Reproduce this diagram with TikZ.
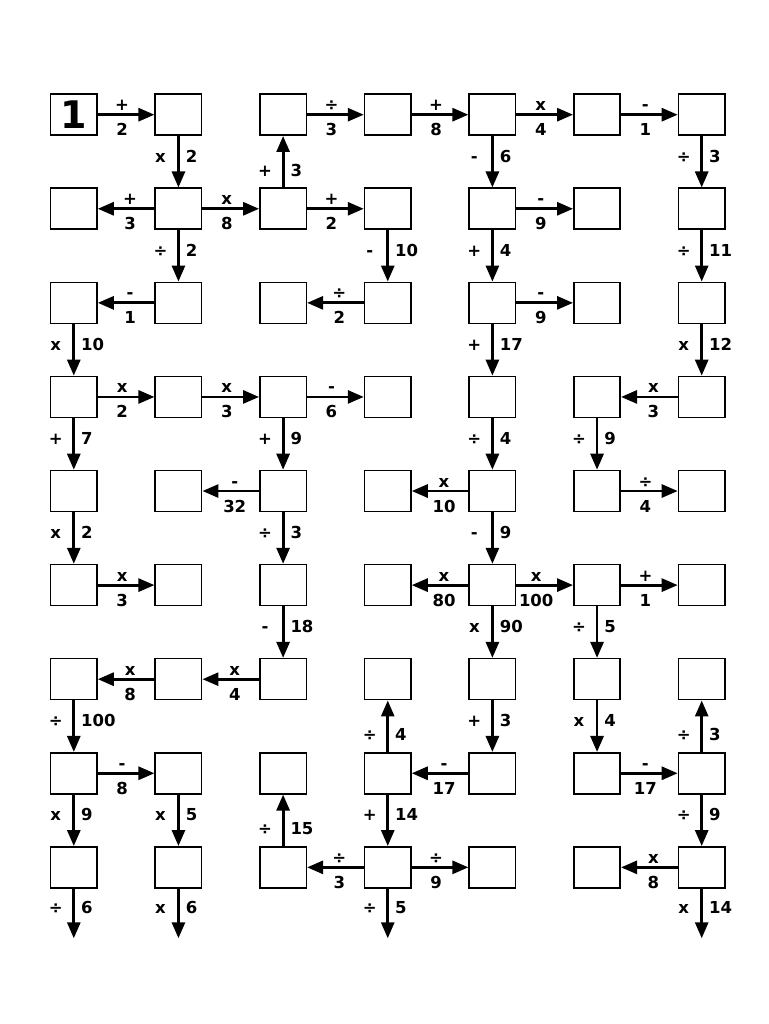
\documentclass[tikz,border=0pt]{standalone}
\usepackage{fontspec}
\setmainfont{DejaVu Sans}
\usetikzlibrary{arrows.meta}
\newcommand\myH[5][.43]{\draw[arr] (#2) -- node[opH,pos=#1]{#4} node[numH,pos=#1]{#5} (#3);}
\newcommand\myV[4]{\draw[arr] (#1) -- node[opV,pos=.51]{#3} node[numV,pos=.51]{#4} (#2);}
\newcommand\myU[4]{\draw[arr] (#1) -- node[opV,pos=.22]{#3} node[numV,pos=.22]{#4} (#2);}
\begin{document}
\begin{tikzpicture}[x=1pt,y=-1pt,
  box/.style={draw, line width=1.6pt, minimum width=46.4pt, minimum height=41pt, inner sep=0pt},
  arr/.style={line width=2.8pt, -{Triangle[length=16pt,width=13pt]}},
  lbl/.style={font=\fontsize{16.5}{18}\selectfont\bfseries, inner sep=0pt},
  opH/.style={lbl, anchor=base, yshift=4pt},
  numH/.style={lbl, anchor=base, yshift=-21pt},
  opV/.style={lbl, anchor=base, xshift=-18pt},
  numV/.style={lbl, anchor=base west, xshift=6pt},
]
\useasboundingbox (0,0) rectangle (768,1024);
\fill[white] (0,0) rectangle (768,1024);
\foreach \c in {1,...,7}{
  \foreach \r in {1,...,9}{
    \node[box] (b\c\r) at ({73.8+104.65*(\c-1)},{114.7+94.08*(\r-1)}) {};
  }
}
\node[font=\fontsize{38}{40}\selectfont\bfseries, inner sep=0pt] (one) at (b11) {1};
\foreach \c in {1,2,4,7}{
  \coordinate (e\c) at ({73.8+104.65*(\c-1)},938.3);
}
% row 1
\myH{b11}{b21}{+}{2}
\myH{b31}{b41}{÷}{3}
\myH{b41}{b51}{+}{8}
\myH{b51}{b61}{x}{4}
\myH{b61}{b71}{-}{1}
% row 2
\myH{b22}{b12}{+}{3}
\myH{b22}{b32}{x}{8}
\myH{b32}{b42}{+}{2}
\myH{b52}{b62}{-}{9}
% row 3
\myH{b23}{b13}{-}{1}
\myH{b43}{b33}{÷}{2}
\myH{b53}{b63}{-}{9}
% row 4
\myH{b14}{b24}{x}{2}
\myH{b24}{b34}{x}{3}
\myH{b34}{b44}{-}{6}
\myH{b74}{b64}{x}{3}
% row 5
\myH{b35}{b25}{-}{32}
\myH{b55}{b45}{x}{10}
\myH{b65}{b75}{÷}{4}
% row 6
\myH{b16}{b26}{x}{3}
\myH{b56}{b46}{x}{80}
\myH[.35]{b56}{b66}{x}{100}
\myH{b66}{b76}{+}{1}
% row 7
\myH{b37}{b27}{x}{4}
\myH{b27}{b17}{x}{8}
% row 8
\myH{b18}{b28}{-}{8}
\myH{b58}{b48}{-}{17}
\myH{b68}{b78}{-}{17}
% row 9
\myH{b49}{b39}{÷}{3}
\myH{b49}{b59}{÷}{9}
\myH{b79}{b69}{x}{8}
% column 1
\myV{b13}{b14}{x}{10}
\myV{b14}{b15}{+}{7}
\myV{b15}{b16}{x}{2}
\myV{b17}{b18}{÷}{100}
\myV{b18}{b19}{x}{9}
\myV{b19}{e1}{÷}{6}
% column 2
\myV{b21}{b22}{x}{2}
\myV{b22}{b23}{÷}{2}
\myV{b28}{b29}{x}{5}
\myV{b29}{e2}{x}{6}
% column 3
\myU{b32}{b31}{+}{3}
\myV{b34}{b35}{+}{9}
\myV{b35}{b36}{÷}{3}
\myV{b36}{b37}{-}{18}
\myU{b39}{b38}{÷}{15}
% column 4
\myV{b42}{b43}{-}{10}
\myU{b48}{b47}{÷}{4}
\myV{b48}{b49}{+}{14}
\myV{b49}{e4}{÷}{5}
% column 5
\myV{b51}{b52}{-}{6}
\myV{b52}{b53}{+}{4}
\myV{b53}{b54}{+}{17}
\myV{b54}{b55}{÷}{4}
\myV{b55}{b56}{-}{9}
\myV{b56}{b57}{x}{90}
\myV{b57}{b58}{+}{3}
% column 6
\myV{b64}{b65}{÷}{9}
\myV{b66}{b67}{÷}{5}
\myV{b67}{b68}{x}{4}
% column 7
\myV{b71}{b72}{÷}{3}
\myV{b72}{b73}{÷}{11}
\myV{b73}{b74}{x}{12}
\myU{b78}{b77}{÷}{3}
\myV{b78}{b79}{÷}{9}
\myV{b79}{e7}{x}{14}
\end{tikzpicture}
\end{document}
